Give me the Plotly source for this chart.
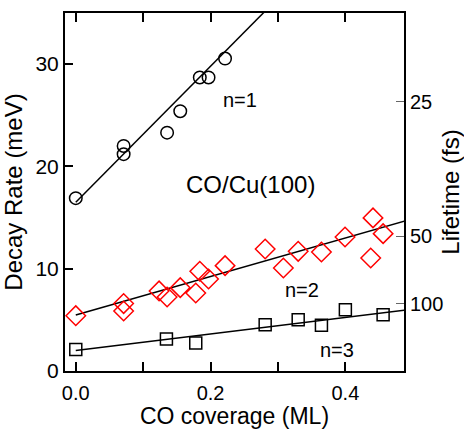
import plotly.graph_objects as go

# ---- data ----
n1_x = [0.0, 0.071, 0.071, 0.1355, 0.155, 0.184, 0.197, 0.2215]
n1_y = [16.9, 22.0, 21.2, 23.3, 25.4, 28.7, 28.7, 30.55]

n2_x = [0.0, 0.071, 0.071, 0.1236, 0.1355, 0.155, 0.178, 0.184, 0.197, 0.2215,
        0.281, 0.308, 0.330, 0.3645, 0.3995, 0.4376, 0.441, 0.456]
n2_y = [5.41, 6.59, 5.87, 7.83, 7.24, 8.15, 7.63, 9.75, 9.0, 10.3,
        11.93, 10.07, 11.7, 11.64, 13.1, 11.05, 14.97, 13.43]

n3_x = [0.0, 0.1345, 0.178, 0.281, 0.330, 0.3645, 0.400, 0.456]
n3_y = [2.09, 3.13, 2.74, 4.53, 5.02, 4.47, 6.0, 5.51]

# linear fits: (intercept, slope)
fit_n1 = (16.5, 66.5)
fit_n2 = (5.48, 18.8)
fit_n3 = (2.0, 8.1)
fit_x = [0.0, 0.49]

lifetime_ticks = [25, 50, 100]  # fs
HBAR = 658.2  # meV*fs

FONT = "Liberation Sans, Arial, sans-serif"

fig = go.Figure()

def add_fit(fit):
    b, m = fit
    fig.add_trace(go.Scatter(x=fit_x, y=[b + m * x for x in fit_x], mode="lines",
                             line=dict(color="black", width=1.5), showlegend=False,
                             hoverinfo="skip"))

add_fit(fit_n1)
add_fit(fit_n2)
add_fit(fit_n3)

fig.add_trace(go.Scatter(x=n1_x, y=n1_y, mode="markers", showlegend=False,
                         marker=dict(symbol="circle-open", size=12.5, color="black",
                                     line=dict(width=1.5, color="black"))))
fig.add_trace(go.Scatter(x=n2_x, y=n2_y, mode="markers", showlegend=False,
                         marker=dict(symbol="diamond-open", size=15, color="red",
                                     line=dict(width=1.5, color="red"))))
fig.add_trace(go.Scatter(x=n3_x, y=n3_y, mode="markers", showlegend=False,
                         marker=dict(symbol="square-open", size=12, color="black",
                                     line=dict(width=1.5, color="black"))))

# invisible trace for right axis
fig.add_trace(go.Scatter(x=[0], y=[0], yaxis="y2", mode="markers",
                         marker=dict(opacity=0), showlegend=False, hoverinfo="skip"))

annots = [
    ("n=1", 0.244, 26.5, 20),
    ("n=2", 0.336, 7.96, 20),
    ("n=3", 0.387, 2.02, 20),
    ("CO/Cu(100)", 0.259, 18.2, 24),
]
for t, x, y, s in annots:
    fig.add_annotation(x=x, y=y, text=t, showarrow=False,
                       font=dict(family=FONT, size=s, color="black"))

fig.update_layout(
    width=464, height=429,
    margin=dict(l=65, r=60, t=13, b=58),
    paper_bgcolor="white", plot_bgcolor="white",
    font=dict(family=FONT, color="black"),
    xaxis=dict(range=[-0.016, 0.487], tickmode="array",
               tickvals=[0.0, 0.1, 0.2, 0.3, 0.4],
               ticktext=["0.0", "", "0.2", "", "0.4"],
               ticks="inside", ticklen=9, tickwidth=1.5, tickcolor="black",
               showline=True, linewidth=2, linecolor="black", mirror="ticks",
               showgrid=False, zeroline=False, automargin=False,
               ticklabelstandoff=3,
               tickfont=dict(size=20),
               title=dict(text="CO coverage (ML)", font=dict(size=23), standoff=6)),
    yaxis=dict(range=[0, 35], tickvals=[0, 10, 20, 30],
               ticks="inside", ticklen=8, tickwidth=1.5, tickcolor="black",
               showline=True, linewidth=2, linecolor="black", mirror=False,
               showgrid=False, zeroline=False, automargin=False,
               tickfont=dict(size=21),
               title=dict(text="Decay Rate (meV)", font=dict(size=24), standoff=6)),
    yaxis2=dict(range=[0, 35], overlaying="y", side="right",
                tickvals=[HBAR / t for t in lifetime_ticks],
                ticktext=[str(t) for t in lifetime_ticks],
                ticks="inside", ticklen=8, tickwidth=1, tickcolor="#666666",
                showline=True, linewidth=2, linecolor="black",
                showgrid=False, zeroline=False, automargin=False,
                tickfont=dict(size=20),
                title=dict(text="Lifetime (fs)", font=dict(size=24), standoff=6)),
)

fig.write_html("out.html")
